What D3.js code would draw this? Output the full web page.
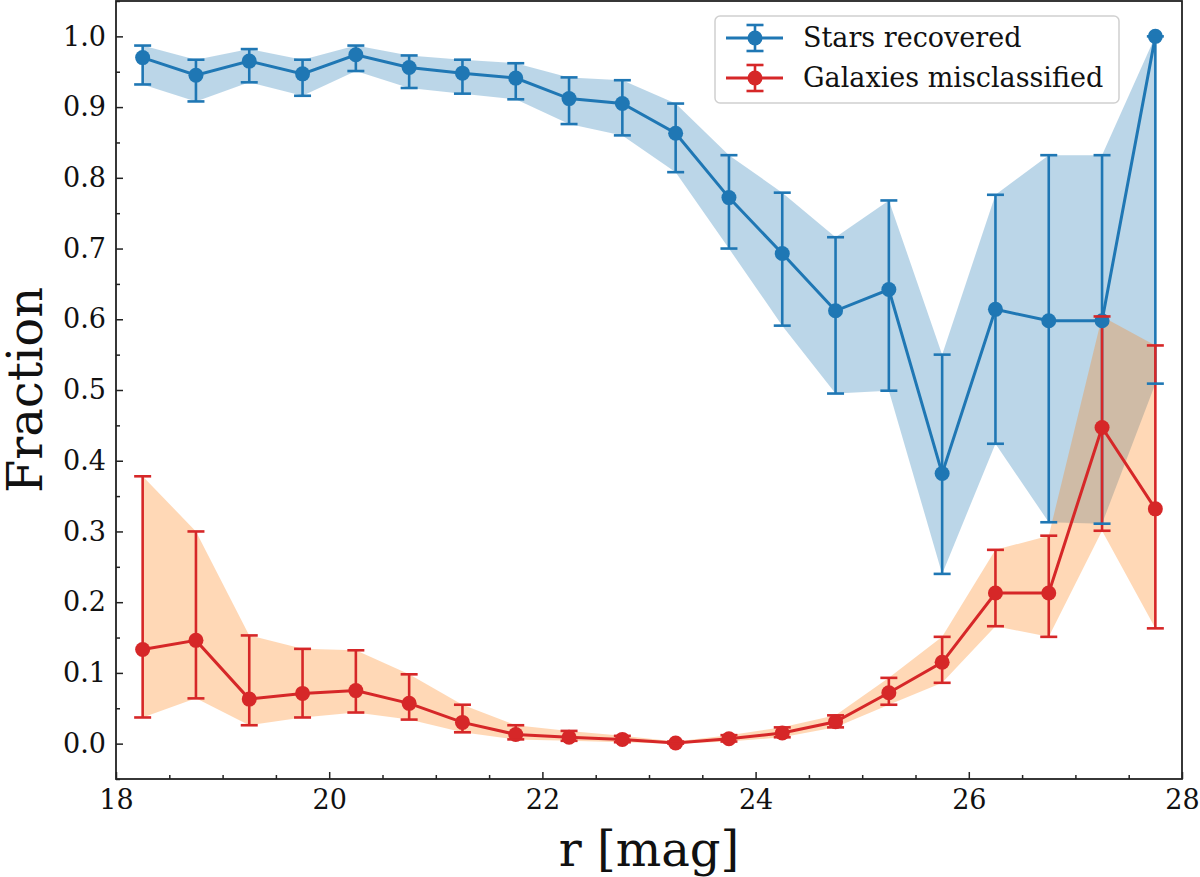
<!DOCTYPE html>
<html lang="en">
<head>
  <meta charset="utf-8">
  <script src="https://d3js.org/d3.v7.min.js"></script>
  <style>
    body { margin: 0; background: #fff; }
    text { font-family: "DejaVu Serif", serif; fill: #111; }
  </style>
</head>
<body>
<script>
// magnitude bins (bin centres)
const mag = [18.25, 18.75, 19.25, 19.75, 20.25, 20.75, 21.25, 21.75, 22.25, 22.75,
             23.25, 23.75, 24.25, 24.75, 25.25, 25.75, 26.25, 26.75, 27.25, 27.75];

// stars recovered: value, lower bound, upper bound
const starFrac = [0.970, 0.945, 0.965, 0.947, 0.974, 0.956, 0.948, 0.941, 0.912, 0.905,
                  0.863, 0.772, 0.693, 0.612, 0.642, 0.382, 0.614, 0.598, 0.598, 1.000];
const starLo   = [0.932, 0.908, 0.935, 0.916, 0.951, 0.927, 0.919, 0.911, 0.876, 0.860,
                  0.808, 0.700, 0.591, 0.495, 0.499, 0.240, 0.424, 0.313, 0.311, 0.509];
const starHi   = [0.987, 0.967, 0.982, 0.967, 0.987, 0.973, 0.967, 0.962, 0.942, 0.938,
                  0.905, 0.832, 0.779, 0.716, 0.768, 0.550, 0.776, 0.832, 0.832, 1.000];

// galaxies misclassified
const galFrac = [0.133, 0.146, 0.063, 0.071, 0.075, 0.057, 0.030, 0.013, 0.009, 0.006,
                 0.001, 0.007, 0.015, 0.031, 0.072, 0.115, 0.213, 0.213, 0.447, 0.332];
const galLo   = [0.037, 0.064, 0.026, 0.037, 0.044, 0.034, 0.016, 0.006, 0.004, 0.002,
                 0.000, 0.003, 0.009, 0.023, 0.055, 0.086, 0.166, 0.151, 0.301, 0.163];
const galHi   = [0.378, 0.300, 0.153, 0.134, 0.132, 0.098, 0.055, 0.026, 0.018, 0.011,
                 0.003, 0.012, 0.023, 0.040, 0.093, 0.151, 0.274, 0.294, 0.604, 0.563];

const xTicks = [18, 20, 22, 24, 26, 28];
const yTicks = [0.0, 0.1, 0.2, 0.3, 0.4, 0.5, 0.6, 0.7, 0.8, 0.9, 1.0];

// layout
const W = 1200, H = 877;
const margin = {top: 1, right: 18, bottom: 98, left: 116};
const width = W - margin.left - margin.right;
const height = H - margin.top - margin.bottom;

const svg = d3.select("body").append("svg")
  .attr("width", W)
  .attr("height", H);

const g = svg.append("g")
  .attr("transform", "translate(" + margin.left + "," + margin.top + ")");

const x = d3.scaleLinear().domain([18, 28]).range([0, width]);
const y = d3.scaleLinear().domain([-0.05, 1.05]).range([height, 0]);

const series = [
  {name: "Stars recovered", color: "#1f77b4", band: "rgba(31,119,180,0.3)", v: starFrac, lo: starLo, hi: starHi},
  {name: "Galaxies misclassified", color: "#d62728", band: "rgba(255,127,14,0.3)", v: galFrac, lo: galLo, hi: galHi}
];
series.forEach(s => {
  s.pts = mag.map((m, i) => ({m: m, v: s.v[i], lo: s.lo[i], hi: s.hi[i]}));
});

// shaded bands
const area = d3.area()
  .x(d => x(d.m))
  .y0(d => y(d.lo))
  .y1(d => y(d.hi));
series.forEach(s => {
  g.append("path").datum(s.pts)
    .attr("d", area)
    .attr("fill", s.band);
});

// error bar stems
series.forEach(s => {
  g.append("g").selectAll("line").data(s.pts).join("line")
    .attr("x1", d => x(d.m)).attr("x2", d => x(d.m))
    .attr("y1", d => y(d.lo)).attr("y2", d => y(d.hi))
    .attr("stroke", s.color).attr("stroke-width", 2.6);
});

// data lines + markers
const line = d3.line().x(d => x(d.m)).y(d => y(d.v));
series.forEach(s => {
  g.append("path").datum(s.pts)
    .attr("d", line)
    .attr("fill", "none")
    .attr("stroke", s.color)
    .attr("stroke-width", 3);
  g.append("g").selectAll("circle").data(s.pts).join("circle")
    .attr("cx", d => x(d.m)).attr("cy", d => y(d.v))
    .attr("r", 7.5)
    .attr("fill", s.color);
});

// caps
const capW = 8.5;
series.forEach(s => {
  const cg = g.append("g");
  ["lo", "hi"].forEach(k => {
    cg.append("g").selectAll("line").data(s.pts).join("line")
      .attr("x1", d => x(d.m) - capW).attr("x2", d => x(d.m) + capW)
      .attr("y1", d => y(d[k])).attr("y2", d => y(d[k]))
      .attr("stroke", s.color).attr("stroke-width", 2.6);
  });
});

// axes with inward ticks
const xAxis = g.append("g")
  .attr("transform", "translate(0," + height + ")")
  .call(d3.axisBottom(x).tickValues(xTicks).tickFormat(d3.format("d"))
    .tickSizeInner(-7).tickSizeOuter(0).tickPadding(11));
const xMinor = g.append("g")
  .attr("transform", "translate(0," + height + ")")
  .call(d3.axisBottom(x).tickValues(d3.range(18.5, 28, 0.5).filter(v => v % 2 !== 0))
    .tickFormat("").tickSizeInner(-4).tickSizeOuter(0));
const yAxis = g.append("g")
  .call(d3.axisLeft(y).tickValues(yTicks).tickFormat(d3.format(".1f"))
    .tickSizeInner(-7).tickSizeOuter(0).tickPadding(10));
const yMinor = g.append("g")
  .call(d3.axisLeft(y).tickValues(d3.range(-0.05, 1.06, 0.1).map(v => +v.toFixed(2)))
    .tickFormat("").tickSizeInner(-4).tickSizeOuter(0));

[xAxis, xMinor, yAxis, yMinor].forEach(a => {
  a.select(".domain").remove();
  a.selectAll(".tick line").attr("stroke", "#222").attr("stroke-width", 1.5);
  a.selectAll(".tick text")
    .attr("font-family", "DejaVu Serif, serif")
    .attr("font-size", 27)
    .attr("fill", "#111");
});

// frame
g.append("rect")
  .attr("width", width).attr("height", height)
  .attr("fill", "none")
  .attr("stroke", "#222")
  .attr("stroke-width", 1.8);

// axis labels
svg.append("text")
  .attr("x", margin.left + width / 2)
  .attr("y", 866)
  .attr("text-anchor", "middle")
  .attr("font-size", 48)
  .text("r [mag]");

svg.append("text")
  .attr("transform", "translate(42," + (margin.top + height / 2) + ") rotate(-90)")
  .attr("text-anchor", "middle")
  .attr("font-size", 48)
  .text("Fraction");

// legend
const leg = svg.append("g").attr("transform", "translate(715,16)");
leg.append("rect")
  .attr("width", 404).attr("height", 87)
  .attr("rx", 5)
  .attr("fill", "rgba(255,255,255,0.8)")
  .attr("stroke", "#d0d0d0")
  .attr("stroke-width", 1.5);

series.forEach((s, i) => {
  const cy = 22 + i * 40;
  const row = leg.append("g");
  row.append("line")
    .attr("x1", 11).attr("x2", 68).attr("y1", cy).attr("y2", cy)
    .attr("stroke", s.color).attr("stroke-width", 3);
  row.append("line")
    .attr("x1", 40).attr("x2", 40).attr("y1", cy - 13).attr("y2", cy + 13)
    .attr("stroke", s.color).attr("stroke-width", 2.6);
  [cy - 13, cy + 13].forEach(yy => {
    row.append("line")
      .attr("x1", 40 - capW).attr("x2", 40 + capW).attr("y1", yy).attr("y2", yy)
      .attr("stroke", s.color).attr("stroke-width", 2.6);
  });
  row.append("circle").attr("cx", 40).attr("cy", cy).attr("r", 7.5).attr("fill", s.color);
  row.append("text")
    .attr("x", 88).attr("y", cy)
    .attr("dy", "0.35em")
    .attr("font-size", 27)
    .text(s.name);
});
</script>
</body>
</html>
